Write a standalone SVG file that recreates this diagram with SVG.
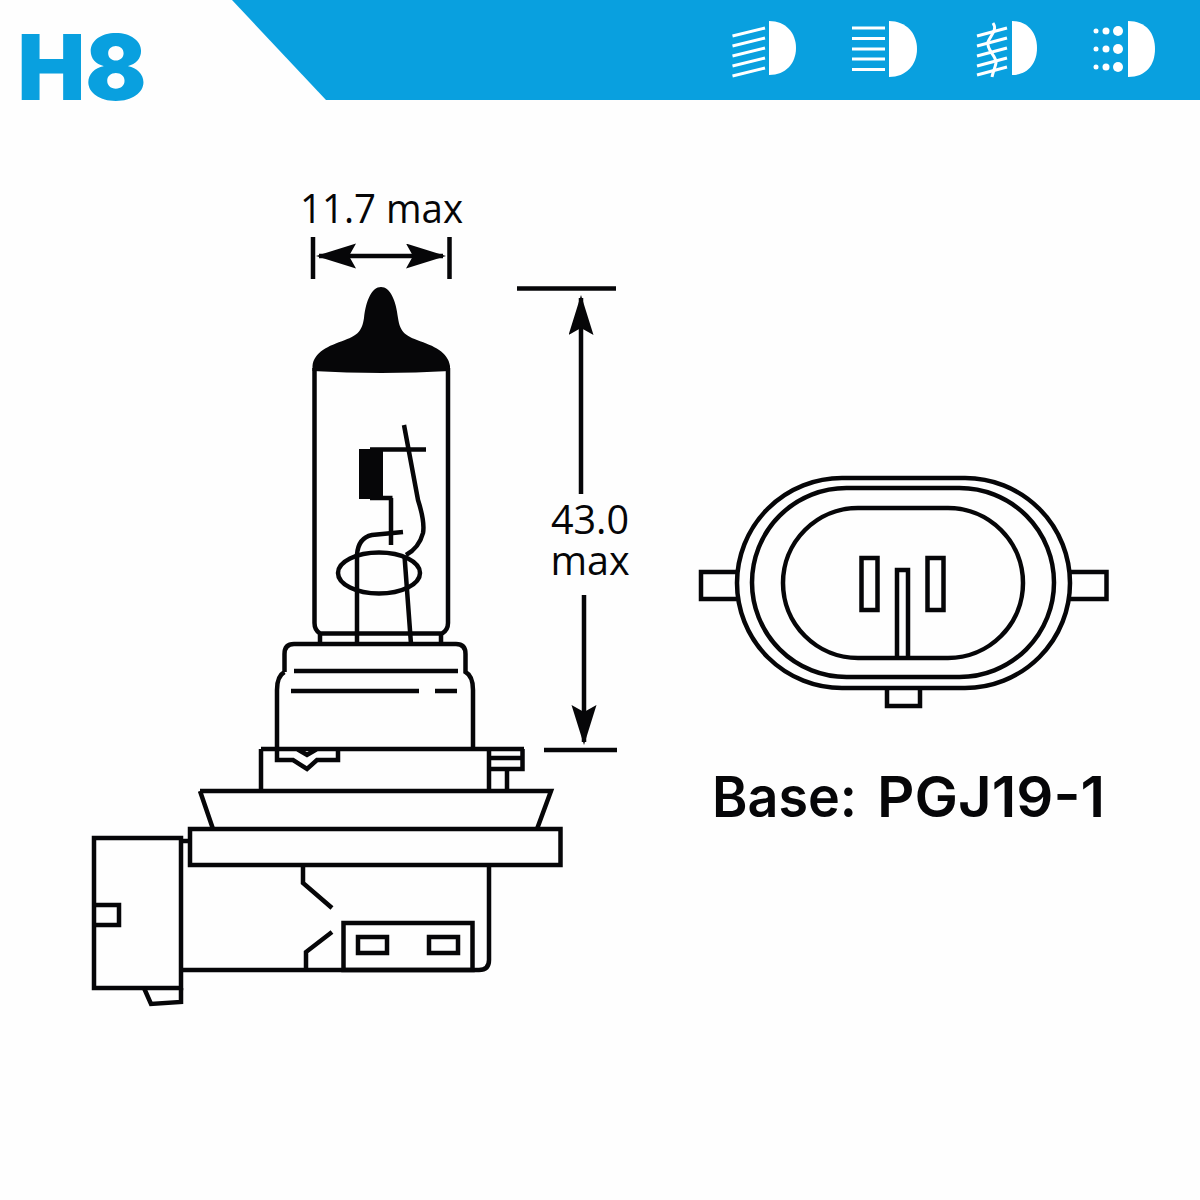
<svg xmlns="http://www.w3.org/2000/svg" width="1200" height="1200" viewBox="0 0 1200 1200">
<style>
.l{fill:none;stroke:#060608;stroke-width:4.500;stroke-linejoin:miter}
.t{fill:#060608;font-family:"Open Sans","Noto Sans",sans-serif;font-size:39.500px;font-weight:500}
.w{fill:none;stroke:#fff;stroke-width:3;stroke-linecap:butt}
.d{fill:#fff}
</style>
<defs>
<marker id="a" markerUnits="userSpaceOnUse" markerWidth="42" markerHeight="26" refX="37" refY="12.500" orient="auto-start-reverse">
<path d="M0,0 L40,12.500 L0,25 L7,12.500Z" fill="#060608"/>
</marker>
</defs>
<rect width="1200" height="1200" fill="#fefefe"/>
<g id="header">
<path d="M232,0 L326,100 L1200,100 L1200,0Z" fill="#09a0df"/>
<text x="17.500" y="100" font-family="Inter,'Liberation Sans',sans-serif" font-weight="900" font-size="91" fill="#09a0df" textLength="129" lengthAdjust="spacingAndGlyphs">H8</text>
</g>
<g id="icon-low-beam">
<path class="d" d="M769,21 C786,21 796,33 796,48 C796,63 786,75 769,75Z"/>
<path class="w" d="M732.500,36 L765,28 M732.500,46 L765,38 M732.500,56 L765,48 M732.500,66 L765,58 M732.500,76 L765,68"/>
</g>
<g id="icon-high-beam">
<path class="d" d="M889,21 C906,21 917,33 917,49 C917,65 906,77 889,77Z"/>
<path class="w" d="M852,28 H885 M852,38.500 H885 M852,49 H885 M852,59 H885 M852,69.500 H885"/>
</g>
<g id="icon-rain-beam">
<path class="d" d="M1012,21 C1028,21 1037,33 1037,48 C1037,63 1028,75 1012,75Z"/>
<path class="w" d="M977,36 L1007,28 M977,46 L1007,38 M977,56 L1007,48 M977,66 L1007,58 M977,75 L1007,67"/>
<path class="w" d="M993,23 C998,30 990,36 988,42 C986,50 997,56 996,63 C995,68 993,72 992,77"/>
</g>
<g id="icon-fog-beam">
<path class="d" d="M1128,21 C1146,21 1155,33 1155,49 C1155,65 1146,77 1128,77Z"/>
<g class="d">
<circle cx="1096" cy="31" r="2.500"/><circle cx="1106" cy="31" r="3.500"/><circle cx="1118" cy="31" r="5"/>
<circle cx="1096" cy="49" r="2.500"/><circle cx="1106" cy="49" r="3.500"/><circle cx="1118" cy="49" r="5"/>
<circle cx="1096" cy="67" r="2.500"/><circle cx="1106" cy="67" r="3.500"/><circle cx="1118" cy="67" r="5"/>
</g>
</g>
<g id="bulb-side">
<path fill="#060608" d="M312.500,366 C314,352 328,346 345,340 C358,335 362,331 364,318 C366,300 372,287 381,287 C390,287 396,300 398,318 C400,331 404,335 417,340 C434,346 448,352 450,366 L450,371 Q381,375 312.500,371Z"/>
<path class="l" d="M314.500,368 V623 Q314.500,630 320,633.500 H442 Q448,630 448,623 V368 M320,633.500 V644 M441,633.500 V644"/>
<path class="l" d="M404,425 L418,500 Q425,522 423,533 Q419,548 406,555"/>
<path class="l" d="M370,449.500 H426 M370,498 H392.500 M391,498 V545"/>
<rect x="359" y="449" width="24" height="50" fill="#060608"/>
<path class="l" d="M403,532 L372,535 Q358,538 357,555 V644 M404.500,556 L411,644"/>
<ellipse class="l" cx="379" cy="573" rx="41" ry="20.500"/>
<path class="l" d="M284.500,672 V654 Q284.500,644 294,644 H456 Q465.500,644 465.500,654 V672 Q473,676 473,690 V749 M284.500,672 Q277,676 277,690 V749"/>
<path class="l" d="M294,671 H458 M291,691 H419 M435,691 H457"/>
<path class="l" d="M261,749 H524 M261,749 V790 M277,749 V760 H293 L307,769 L317,760 H338 V749 M297,749 L307,755 L317,749"/>
<path class="l" d="M489,749 V790 M507,769 V790 M522.500,749 V769 H489 M489,758 H522.500"/>
<path class="l" d="M200,791 H551 L537,829 M200,791 L213,829"/>
<rect class="l" x="190" y="829" width="370.500" height="36"/>
<rect class="l" x="94" y="838" width="87" height="150"/>
<path class="l" d="M181,841 H190 M94,905 H119 V925 H94 M144,988 L151,1004 L181,1002 V988"/>
<path class="l" d="M181,970 H479 Q489,970 489,960 V865"/>
<path class="l" d="M303,865 V883 L332,908 M332,932 L306,952 V970"/>
<rect class="l" x="343.500" y="923" width="129" height="47"/>
<rect class="l" x="358" y="937" width="29" height="16"/>
<rect class="l" x="429" y="937" width="29" height="16"/>
</g>
<g id="bulb-base">
<rect class="l" x="737" y="478" width="333" height="210" rx="105"/>
<rect class="l" x="752" y="488" width="302" height="189" rx="94.500"/>
<rect class="l" x="783" y="508" width="240" height="150" rx="75"/>
<rect class="l" x="861.500" y="558" width="16" height="52"/>
<rect class="l" x="927.500" y="558" width="16" height="52"/>
<path class="l" d="M897,658 V570 H908 V658"/>
<path class="l" d="M737,572 H701 V599 H737 M1070,572 H1106.500 V599 H1070 M887,688 V706 H920 V688"/>
</g>
<g id="connectors">
<path class="l" d="M313,237 V279 M449.500,237 V279"/>
<path class="l" d="M319,256 H443" marker-start="url(#a)" marker-end="url(#a)"/>
<path class="l" d="M517,288.500 H616 M544,750 H617"/>
<path class="l" d="M581,298 V494" marker-start="url(#a)"/>
<path class="l" d="M584,595 V742" marker-end="url(#a)"/>
</g>
<g id="labels">
<text class="t" x="300" y="223" textLength="163" lengthAdjust="spacingAndGlyphs">11.7 max</text>
<text class="t" text-anchor="middle"><tspan x="590" y="534">43.0</tspan><tspan x="590" y="575">max</tspan></text>
<text y="817" font-family="Inter,'Open Sans',sans-serif" font-size="56" font-weight="600" fill="#060608"><tspan x="712" textLength="145" lengthAdjust="spacingAndGlyphs">Base:</tspan><tspan x="877" textLength="228" lengthAdjust="spacingAndGlyphs">PGJ19-1</tspan></text>
</g>
</svg>
